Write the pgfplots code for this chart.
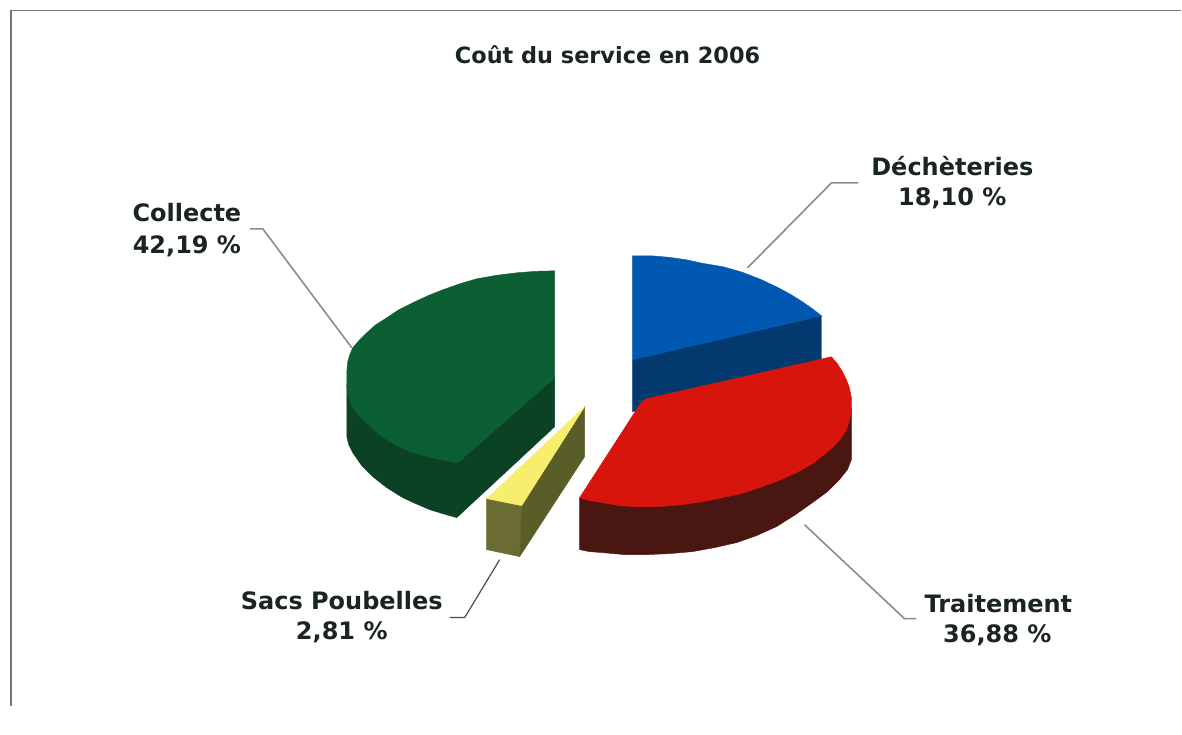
\documentclass[border=0pt]{standalone}
\usepackage{pgfplots}
\pgfplotsset{compat=1.18}
\usepackage{fontspec}
\setmainfont{DejaVu Sans}
\definecolor{inkc}{HTML}{1A2422}
\definecolor{framec}{HTML}{777777}
\definecolor{leadc}{HTML}{8C8C8C}
\definecolor{greentop}{HTML}{0C5F33}
\definecolor{greenside}{HTML}{0B4226}
\definecolor{yellowtop}{HTML}{F6EE6C}
\definecolor{olivefront}{HTML}{6A6C34}
\definecolor{oliveside}{HTML}{595D28}
\definecolor{bluetop}{HTML}{0058B0}
\definecolor{blueside}{HTML}{023A70}
\definecolor{redtop}{HTML}{D8150C}
\definecolor{redside}{HTML}{4A1612}
\begin{document}
\begin{tikzpicture}
\begin{axis}[
  scale only axis,
  width=1182pt, height=735pt,
  xmin=0, xmax=1182, ymin=0, ymax=735,
  y dir=reverse,
  hide axis,
  clip=false,
]
% page
\addplot[fill=white, draw=none] coordinates {(0,0) (1182,0) (1182,735) (0,735)} --cycle;
% frame
\addplot[framec, line width=1.6pt] coordinates {(11,706) (11,10.5) (1182,10.5)};

% leaders
\addplot[leadc, line width=1.6pt] coordinates {(748,268) (832,183) (859,183)};
\addplot[leadc, line width=1.6pt] coordinates {(250,229) (263,229) (352,348)};
\addplot[leadc, line width=1.6pt] coordinates {(805,525) (905,619) (917,619)};
\addplot[black!70, line width=1.2pt] coordinates {(500,560) (465,618) (450,618)};

% Collecte
\addplot[fill=greenside, draw=greenside, line width=.4pt] coordinates {
  (347,385) (347,437) (349,445) (353,453) (362,466) (373,477) (387,488) (403,498) (416,504)
  (430,510) (443,514) (457,518) (555,427) (555,378) (458,463)};
\addplot[fill=greentop, draw=greentop, line width=.4pt] coordinates {
  (555,271) (536,271.5) (517,273) (497,275.5) (477,279) (460,284) (443,290) (428,296) (413,303)
  (399,310) (387,318) (376,325) (367,333) (359,341) (353,348) (350,355) (348,362) (347,372)
  (347,387) (349,398) (353,408) (359,416) (367,423) (376,432) (387,440) (399,447) (413,453)
  (436,459) (458,463) (555,378)} --cycle;

% Sacs Poubelles
\addplot[fill=olivefront, draw=olivefront, line width=.4pt] coordinates {
  (487,499) (522,506) (520,557) (487,550)} --cycle;
\addplot[fill=oliveside, draw=oliveside, line width=.4pt] coordinates {
  (522,506) (585,407) (585,457) (520,557)} --cycle;
\addplot[fill=yellowtop, draw=yellowtop, line width=.4pt] coordinates {
  (487,499) (522,506) (585,407)} --cycle;

% Dechetteries
\addplot[fill=blueside, draw=blueside, line width=.4pt] coordinates {
  (633,360) (822,316) (822,360) (633,412)} --cycle;
\addplot[fill=bluetop, draw=bluetop, line width=.4pt] coordinates {
  (633,256) (652,256) (670,257.5) (687,260) (703,263.5) (724,267) (743,272.5) (761,279.5) (777,287)
  (791,294.5) (803,302) (813,309) (822,316) (633,360)} --cycle;

% Traitement
\addplot[fill=redside, draw=redside, line width=.4pt] coordinates {
  (852,408) (852,460) (848,470) (840,480) (828,492) (813,503) (796,515) (777,527) (757,536)
  (737,543) (715,548) (693,552) (670,554) (647,555) (625,555) (603,553) (590,552) (580,550)
  (580,498) (637,507) (723,498) (797,473)} --cycle;
\addplot[fill=redtop, draw=redtop, line width=.4pt] coordinates {
  (647,399) (832,357) (838,364) (843,372) (847,380) (850,388) (852,398) (852,410) (850,421)
  (847,430) (842,438) (835,446) (827,453) (813,464) (797,473) (779,481) (760,488) (742,494)
  (723,498) (703,502) (683,505) (660,507) (637,507) (620,506) (603,503) (590,501) (580,498)
  (642,402)} --cycle;

% texts
\node[inkc, font=\fontsize{22.4}{27}\selectfont\bfseries] at (axis cs:608,55) {Coût du service en 2006};
\node[inkc, font=\fontsize{24}{29}\selectfont\bfseries] at (axis cs:953,166) {Déchèteries};
\node[inkc, font=\fontsize{24}{29}\selectfont\bfseries] at (axis cs:953,198) {18,10 \%};
\node[inkc, font=\fontsize{24}{29}\selectfont\bfseries] at (axis cs:187,213) {Collecte};
\node[inkc, font=\fontsize{24}{29}\selectfont\bfseries] at (axis cs:187,246) {42,19 \%};
\node[inkc, font=\fontsize{24}{29}\selectfont\bfseries] at (axis cs:999,604) {Traitement};
\node[inkc, font=\fontsize{24}{29}\selectfont\bfseries] at (axis cs:998,636) {36,88 \%};
\node[inkc, font=\fontsize{24}{29}\selectfont\bfseries] at (axis cs:342,601) {Sacs Poubelles};
\node[inkc, font=\fontsize{24}{29}\selectfont\bfseries] at (axis cs:342,633) {2,81 \%};
\end{axis}
\end{tikzpicture}
\end{document}
